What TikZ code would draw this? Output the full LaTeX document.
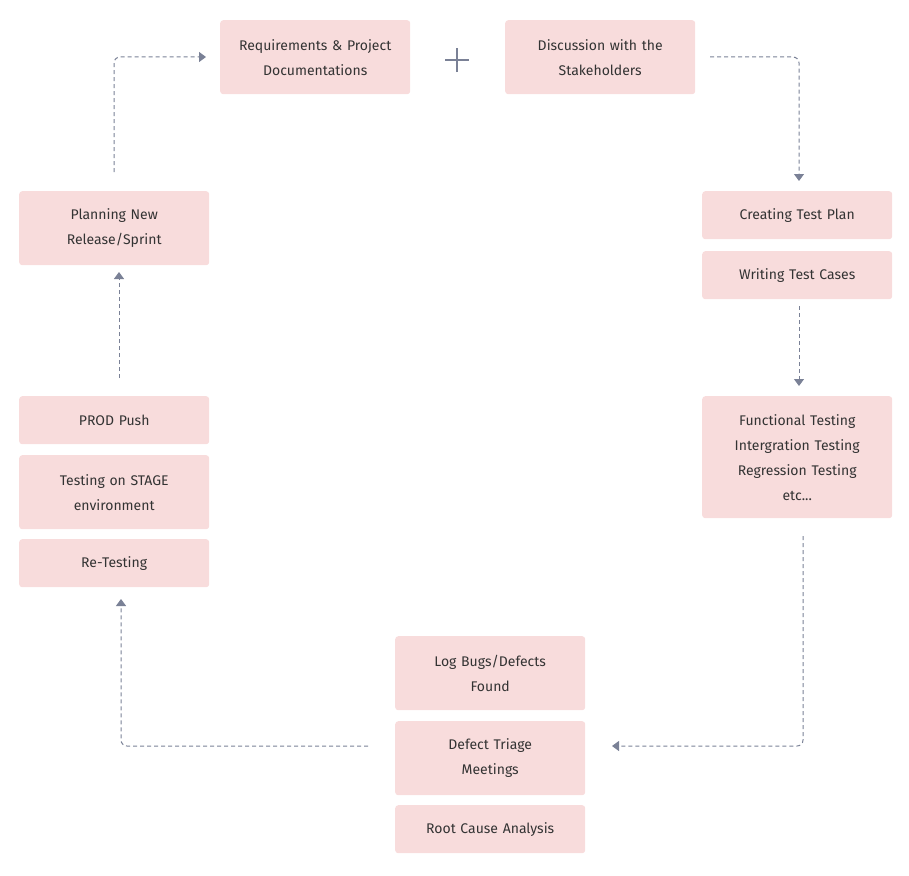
\documentclass[tikz,border=0pt]{standalone}
\usepackage{fontspec}
\setmainfont{Fira Sans}
\usetikzlibrary{arrows.meta}
\definecolor{boxfill}{HTML}{F8DCDC}
\definecolor{linecol}{HTML}{7A8196}
\definecolor{txtcol}{HTML}{333333}
\begin{document}
\begin{tikzpicture}[x=1pt,y=-1pt,
  stepbox/.style={fill=boxfill,rounded corners=3pt,minimum width=190pt,text width=186pt,
    align=center,inner sep=0pt,text=txtcol,
    font=\fontsize{14}{25}\selectfont,anchor=north west},
  conn/.style={draw=linecol,line width=1pt,dash pattern=on 4pt off 3pt,rounded corners=6pt,
    -{Triangle[width=10pt,length=7pt]}}]
\useasboundingbox (0,0) rectangle (909,875);
\node[stepbox,minimum height=74pt] (req) at (220,20) {Requirements \& Project\\Documentations};
\node[stepbox,minimum height=74pt] (disc) at (505,20) {Discussion with the\\Stakeholders};
\node[stepbox,minimum height=48pt] (plan) at (702,191) {Creating Test Plan};
\node[stepbox,minimum height=48pt] (cases) at (702,251) {Writing Test Cases};
\node[stepbox,minimum height=122pt] (func) at (702,396) {Functional Testing\\Intergration Testing\\Regression Testing\\etc...};
\node[stepbox,minimum height=74pt] (log) at (395,636) {Log Bugs/Defects\\Found};
\node[stepbox,minimum height=74pt] (triage) at (395,721) {Defect Triage\\Meetings};
\node[stepbox,minimum height=48pt] (root) at (395,805) {Root Cause Analysis};
\node[stepbox,minimum height=48pt] (prod) at (19,396) {PROD Push};
\node[stepbox,minimum height=74pt] (stage) at (19,455) {Testing on STAGE\\environment};
\node[stepbox,minimum height=48pt] (retest) at (19,539) {Re-Testing};
\node[stepbox,minimum height=74pt] (newrel) at (19,191) {Planning New\\Release/Sprint};
% plus sign
\coordinate (plusc) at (457,60);
\draw[linecol,line width=1.3pt] ([xshift=-12pt]plusc) -- ([xshift=12pt]plusc)
  ([yshift=-12pt]plusc) -- ([yshift=12pt]plusc);
% connector endpoints
\coordinate (a1s) at (114,172); \coordinate (a1e) at (206,57);
\coordinate (a2s) at (710,57);  \coordinate (a2e) at (799,181);
\coordinate (a3s) at (799,306); \coordinate (a3e) at (799,386);
\coordinate (a4s) at (803,536); \coordinate (a4e) at (612,746);
\coordinate (a5s) at (368,746); \coordinate (a5e) at (121,599);
\coordinate (a6s) at (119,378); \coordinate (a6e) at (119,272);
\draw[conn] (a1s) |- (a1e);
\draw[conn] (a2s) -| (a2e);
\draw[conn] (a3s) -- (a3e);
\draw[conn] (a4s) |- (a4e);
\draw[conn] (a5s) -| (a5e);
\draw[conn] (a6s) -- (a6e);
\end{tikzpicture}
\end{document}
